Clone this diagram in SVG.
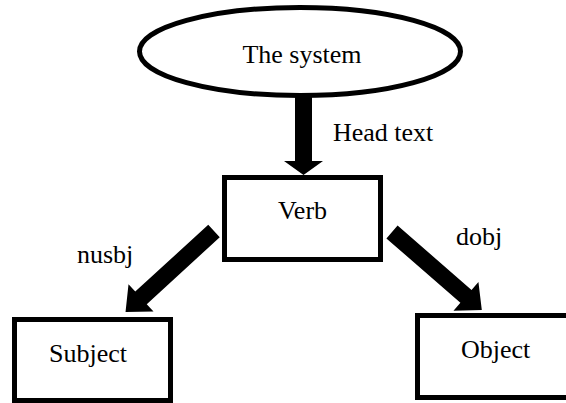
<svg xmlns="http://www.w3.org/2000/svg" width="566" height="403" viewBox="0 0 566 403">
  <style>
    .node { fill: #ffffff; stroke: #000000; stroke-width: 5; }
    .arrow { fill: #000000; stroke: none; }
    .label { font-family: "Liberation Serif", "Times New Roman", serif; font-size: 26px; fill: #000000; }
  </style>
  <rect x="0" y="0" width="566" height="403" fill="#ffffff"/>

  <!-- connectors: thick block arrows -->
  <g id="connectors">
    <polygon class="arrow" points="295,96 312,96 312,161 323,161 303.5,175 284,161 295,161"/>
    <polygon class="arrow" points="0,-8.5 99,-8.5 99,-18.5 120,0 99,18.5 99,8.5 0,8.5" transform="translate(214,231) rotate(137.5)"/>
    <polygon class="arrow" points="0,-8.5 98,-8.5 98,-19 119,0 98,19 98,8.5 0,8.5" transform="translate(392,232) rotate(41)"/>
    <text class="label" x="333" y="141">Head text</text>
    <text class="label" x="77" y="263">nusbj</text>
    <text class="label" x="456" y="245">dobj</text>
  </g>

  <g id="system">
    <ellipse class="node" cx="300" cy="51.5" rx="160.5" ry="44" stroke-width="4.5"/>
    <text class="label" x="302" y="63" text-anchor="middle">The system</text>
  </g>

  <g id="verb">
    <rect class="node" x="224.5" y="177.5" width="156" height="82"/>
    <text class="label" x="302.5" y="219" text-anchor="middle">Verb</text>
  </g>

  <g id="subject">
    <rect class="node" x="14.5" y="319.5" width="156" height="81"/>
    <text class="label" x="49" y="362">Subject</text>
  </g>

  <g id="object">
    <rect class="node" x="417.5" y="315.5" width="170" height="82"/>
    <text class="label" x="461" y="358">Object</text>
  </g>
</svg>
